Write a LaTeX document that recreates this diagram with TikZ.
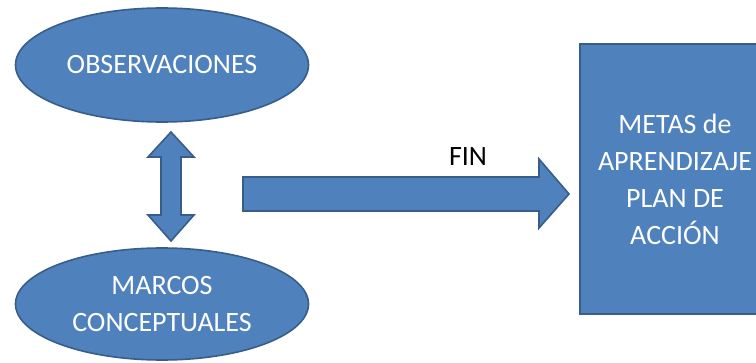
\documentclass[tikz,border=0pt]{standalone}
\usepackage{fontspec}
\setmainfont{Carlito}
\usetikzlibrary{shapes.geometric}
\definecolor{bloque}{HTML}{4F81BD}
\definecolor{borde}{HTML}{385D8A}

\begin{document}
\begin{tikzpicture}[
    x = 0.75pt, y = -0.75pt,
    forma/.style = {fill = bloque, draw = borde, line width = 1.2pt, inner sep = 0pt},
    texto/.style = {font = \fontsize{21}{27.75}\selectfont, align = center}]

\useasboundingbox (0,0) rectangle (756,363);
\clip (0,0) rectangle (756,363);

\node[forma, texto, ellipse, text = white, minimum width = 219.75pt, minimum height = 85.5pt]
	(obs) at (162,65) {OBSERVACIONES};
\node[forma, texto, ellipse, text = white, minimum width = 219.75pt, minimum height = 84pt]
	(mar) at (162,304) {MARCOS\\CONCEPTUALES};
\node[forma, texto, rectangle, text = white, minimum width = 142.5pt, minimum height = 202.5pt]
	(metas) at (675,179) {METAS de\\APRENDIZAJE\\PLAN DE\\ACCIÓN};

% flecha doble entre las elipses
\draw[forma] (171,132) -- (194,157) -- (181,157) -- (181,215) -- (194,215) --
	  (171,241) -- (148,215) -- (161,215) -- (161,157) -- (148,157) -- cycle;
% flecha hacia las metas
\draw[forma] (243,177) -- (539,177) -- (539,159) -- (569,194) --
	  (539,228) -- (539,211) -- (243,211) -- cycle;
\node[texto] (fin) at (468,157) {FIN};
\end{tikzpicture}
\end{document}
